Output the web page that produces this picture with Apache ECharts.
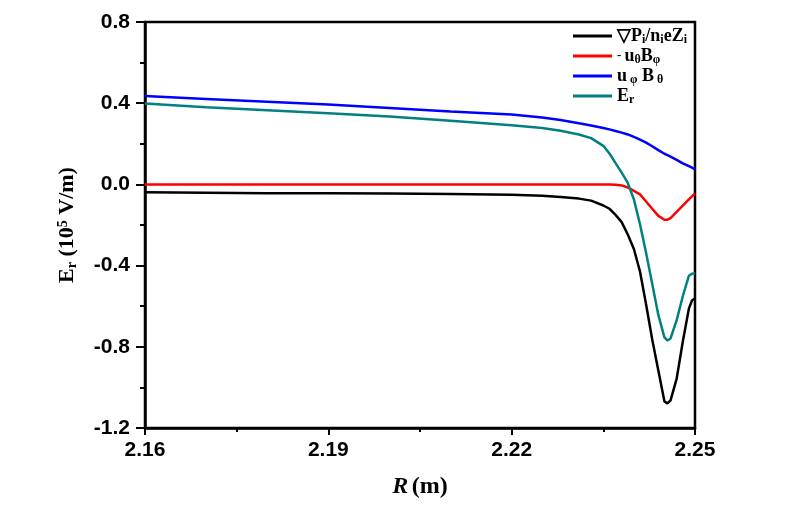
<!DOCTYPE html>
<html>
<head>
<meta charset="utf-8">
<script src="https://cdn.jsdelivr.net/npm/echarts@6/dist/echarts.min.js"></script>
<style>html,body{margin:0;padding:0;background:#fff}#c{width:807px;height:506px}</style>
</head>
<body>
<div id="c"></div>
<script>
var R = [2.160, 2.170, 2.180, 2.190, 2.200, 2.210, 2.220, 2.225, 2.228, 2.231, 2.233, 2.235, 2.236, 2.237, 2.238, 2.239, 2.240, 2.241, 2.242, 2.243, 2.244, 2.245, 2.2455, 2.246, 2.247, 2.248, 2.249, 2.2495, 2.250];
var gradP = [-0.039, -0.041, -0.043, -0.044, -0.045, -0.047, -0.051, -0.056, -0.062, -0.070, -0.080, -0.104, -0.120, -0.150, -0.186, -0.247, -0.318, -0.429, -0.592, -0.764, -0.917, -1.069, -1.079, -1.064, -0.957, -0.775, -0.612, -0.572, -0.561];
var uThetaBPhi = [0, 0, 0, 0, 0, 0, 0, 0, 0, 0, 0, 0, 0, -0.002, -0.005, -0.015, -0.032, -0.049, -0.084, -0.120, -0.155, -0.174, -0.174, -0.166, -0.135, -0.105, -0.074, -0.059, -0.044];
var uPhiBTheta = [0.435, 0.421, 0.407, 0.393, 0.376, 0.359, 0.344, 0.330, 0.317, 0.301, 0.290, 0.278, 0.271, 0.263, 0.255, 0.246, 0.234, 0.220, 0.206, 0.188, 0.169, 0.151, 0.144, 0.137, 0.121, 0.104, 0.090, 0.083, 0.075];
var Er = [0.398, 0.380, 0.365, 0.350, 0.334, 0.314, 0.291, 0.278, 0.264, 0.246, 0.228, 0.190, 0.152, 0.105, 0.058, 0.007, -0.074, -0.196, -0.338, -0.490, -0.643, -0.754, -0.769, -0.759, -0.669, -0.551, -0.450, -0.440, -0.438];
var xTicks = [2.16, 2.19, 2.22, 2.25];
var yTicks = [-1.2, -0.8, -0.4, 0.0, 0.4, 0.8];
var seriesNames = ['gradP', 'uThetaBPhi', 'uPhiBTheta', 'Er'];
var seriesColors = ['#000000', '#ff0000', '#0000ff', '#008080'];
var legendLabels = {
  gradP: '{m|\u25BDP}{s|i}{m|/n}{s|i}{m|eZ}{s|i}',
  uThetaBPhi: '{d|- }{m|u}{s|\u03B8}{m|B}{s|\u03C6}',
  uPhiBTheta: '{m|u}{s| \u03C6}{m| B}{s| \u03B8}',
  Er: '{m|E}{s|r}'
};
var valueArrays = [gradP, uThetaBPhi, uPhiBTheta, Er];

function zip(xs, ys) { return xs.map(function (x, i) { return [x, ys[i]]; }); }

var serif = 'Liberation Serif, Times New Roman, serif';
var sans = 'Liberation Sans, Arial, sans-serif';
var chart = echarts.init(document.getElementById('c'));
chart.setOption({
  animation: false,
  backgroundColor: '#fff',
  grid: { left: 145, right: 112, top: 22, bottom: 78, show: true, borderColor: '#000', borderWidth: 2.5, backgroundColor: 'transparent' },
  legend: {
    orient: 'vertical', left: 568, top: 22, itemGap: 1,
    icon: 'rect', itemWidth: 39, itemHeight: 3,
    data: seriesNames,
    formatter: function (n) { return legendLabels[n]; },
    textStyle: {
      color: '#000', lineHeight: 18,
      rich: {
        m: { fontFamily: serif, fontWeight: 'bold', fontSize: 18, color: '#000' },
        d: { fontFamily: serif, fontWeight: 'bold', fontSize: 13, color: '#000' },
        s: { fontFamily: serif, fontWeight: 'bold', fontSize: 12, color: '#000', padding: [8, 0, 0, 0] }
      }
    }
  },
  xAxis: {
    type: 'value', min: xTicks[0], max: xTicks[xTicks.length - 1], interval: 0.03,
    name: '{i|R} {n|(m)}', nameLocation: 'middle', nameGap: 47,
    nameTextStyle: { rich: {
      i: { fontFamily: serif, fontStyle: 'italic', fontWeight: 'bold', fontSize: 24, color: '#000' },
      n: { fontFamily: serif, fontWeight: 'bold', fontSize: 24, color: '#000' } } },
    axisLine: { onZero: false, lineStyle: { color: '#000', width: 2.5 } },
    axisTick: { inside: false, length: 7, lineStyle: { color: '#000', width: 2 } },
    minorTick: { show: true, splitNumber: 2, length: 4, lineStyle: { color: '#000', width: 2 } },
    splitLine: { show: false },
    axisLabel: { margin: 12, color: '#000', fontFamily: sans, fontWeight: 'bold', fontSize: 21,
      formatter: function (v) { return v.toFixed(2); } }
  },
  yAxis: {
    type: 'value', min: yTicks[0], max: yTicks[yTicks.length - 1], interval: 0.4,
    name: '{m|E}{s|r}{m| (10}{p|5}{m| V/m)}', nameLocation: 'middle', nameGap: 66,
    nameTextStyle: { rich: {
      m: { fontFamily: serif, fontWeight: 'bold', fontSize: 22, color: '#000' },
      s: { fontFamily: serif, fontWeight: 'bold', fontSize: 14, color: '#000', padding: [9, 0, 0, 0] },
      p: { fontFamily: serif, fontWeight: 'bold', fontSize: 14, color: '#000', padding: [0, 0, 9, 0] } } },
    axisLine: { onZero: false, lineStyle: { color: '#000', width: 2.5 } },
    axisTick: { inside: false, length: 9, lineStyle: { color: '#000', width: 2 } },
    minorTick: { show: true, splitNumber: 2, length: 5, lineStyle: { color: '#000', width: 2 } },
    splitLine: { show: false },
    axisLabel: { margin: 15, color: '#000', fontFamily: sans, fontWeight: 'bold', fontSize: 21,
      formatter: function (v) { return v.toFixed(1); } }
  },
  series: seriesNames.map(function (n, i) {
    return {
      name: n, type: 'line', showSymbol: false, symbol: 'none',
      data: zip(R, valueArrays[i]),
      itemStyle: { color: seriesColors[i] },
      lineStyle: { color: seriesColors[i], width: 2.5 }
    };
  })
});
</script>
</body>
</html>
